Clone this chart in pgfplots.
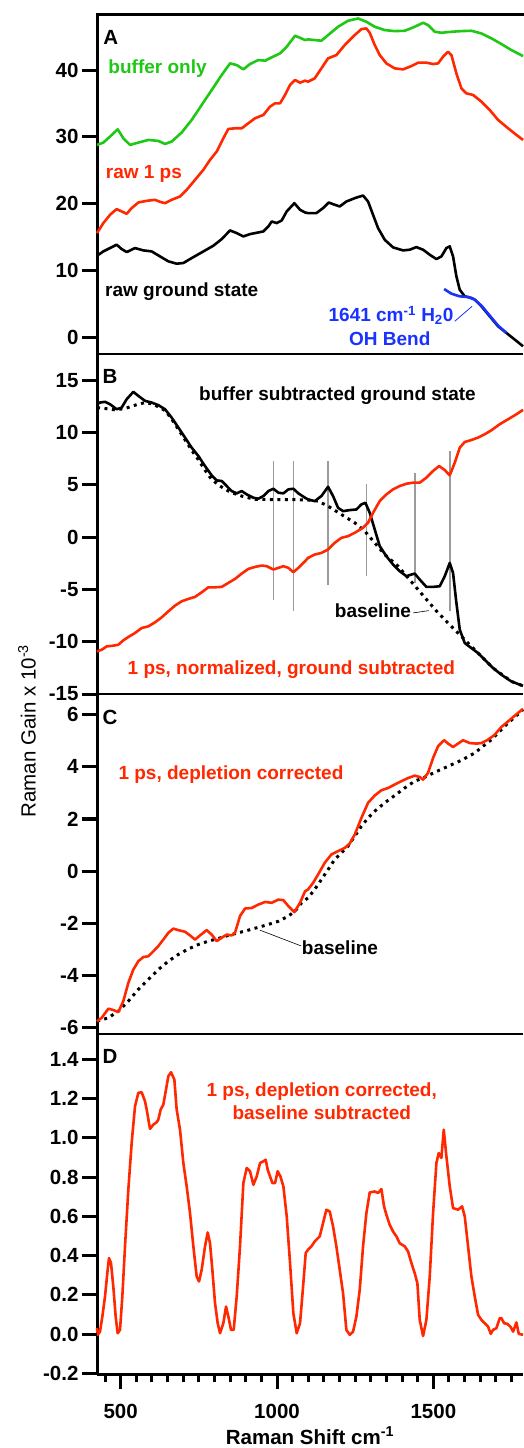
\documentclass[border=0pt]{standalone}
\usepackage{fontspec}
\setmainfont{Liberation Sans}
\usepackage{pgfplots}
\pgfplotsset{compat=1.18}
\usetikzlibrary{calc}

\definecolor{sred}{RGB}{255,40,0}
\definecolor{sgreen}{RGB}{30,200,20}
\definecolor{sblue}{RGB}{25,50,255}
\definecolor{sgray}{RGB}{155,155,155}

\newcommand{\tickfont}{\fontsize{20.5}{20.5}\selectfont\bfseries}
\newcommand{\notefont}{\fontsize{19}{22.5}\selectfont\bfseries}

\pgfplotsset{
  panel/.style={
    scale only axis, width=426pt, height=340pt,
    xmin=424.2, xmax=1786.7,
    axis lines=left,
    axis line style={-},
    x axis line style={line width=1.2pt},
    y axis line style={line width=3pt},
    tick pos=left,
    tick align=outside,
    major tick length=15pt, minor tick length=8pt,
    tick style={black, line width=3pt},
    xtick=\empty,
    tick label style={font=\tickfont},
    /pgf/number format/assume math mode=true,
    /pgf/number format/1000 sep={},
    clip=false,
    every axis plot/.append style={line width=2.6pt, line join=round},
  },
}
\tikzset{
  note/.style={font=\notefont, inner sep=0pt},
  letter/.style={font=\tickfont, inner sep=0pt, anchor=base west},
  base dots/.style={black, line width=3pt, dash pattern=on 3pt off 4.5pt},
}
% outward tick marks set as solid bars: #1 axis name, #2 relative positions along the axis
\newcommand{\leftticks}[2]{\foreach \q in {#2}{\node[anchor=east, inner sep=0pt, outer sep=0pt] at ($(#1.south west)!\q!(#1.north west)$) {\rule{15pt}{3pt}};}}
\newcommand{\bottomticks}[3]{\foreach \q in {#3}{\node[anchor=north, inner sep=0pt, outer sep=0pt] at ($(#1.south west)!\q!(#1.south east)$) {\rule{3pt}{#2}};}}

\begin{document}
\begin{tikzpicture}
\path[use as bounding box] (0,0) rectangle (523pt,-1448pt);

% ---------------- A: raw spectra ----------------
\begin{axis}[panel, name=A, at={(97pt,-14pt)}, anchor=north west,
  ymin=-2.5, ymax=48.4, ytick={0,10,20,30,40}]
\addplot[sgreen] coordinates {
(424.2,28.80) (444.5,29.15) (465.8,30.05) (490.3,31.14) (508.4,29.80) (529.8,28.80)
(556.4,29.15) (588.4,29.55) (620.4,29.40) (641.7,28.95) (663.0,29.30) (695.0,30.65)
(727.0,32.54) (759.0,34.78) (791.0,37.02) (823.0,39.27) (849.7,41.01) (871.0,40.76)
(892.3,40.11) (913.6,40.91) (940.3,41.51) (961.6,41.41) (982.9,41.91) (1009.6,42.50)
(1030.9,43.50) (1057.6,45.14) (1073.6,44.84) (1089.6,44.50) (1099.2,44.60) (1120.5,44.50)
(1141.9,44.40) (1163.2,45.24) (1195.2,46.49) (1227.2,47.39) (1259.2,47.73) (1285.8,47.24)
(1312.5,46.49) (1344.5,45.99) (1376.4,45.84) (1408.4,45.89) (1440.4,46.49) (1467.1,47.09)
(1483.1,46.74) (1504.4,45.74) (1525.7,45.59) (1557.7,45.74) (1589.7,45.84) (1621.7,45.89)
(1653.7,45.49) (1685.7,44.75) (1717.7,43.90) (1749.6,43.00) (1786.7,42.10)};
\addplot[sred] coordinates {
(424.2,15.60) (444.5,17.10) (465.8,18.34) (487.1,19.19) (503.1,18.84) (519.1,18.49)
(535.1,19.34) (556.4,20.18) (583.1,20.43) (609.7,20.58) (625.7,20.28) (641.7,20.08)
(663.0,20.58) (689.7,21.08) (711.0,22.08) (737.7,23.57) (764.3,25.07) (785.7,26.56)
(807.0,27.81) (828.3,29.80) (844.3,31.19) (865.6,31.29) (887.0,31.29) (908.3,32.04)
(929.6,32.79) (956.3,33.29) (977.6,34.53) (993.6,35.03) (1009.6,35.03) (1025.6,36.28)
(1041.6,37.77) (1057.6,38.52) (1073.6,38.12) (1089.6,38.42) (1099.2,38.27) (1120.5,38.77)
(1141.9,40.26) (1163.2,41.76) (1189.8,42.25) (1216.5,43.75) (1248.5,45.24) (1269.8,46.14)
(1285.8,46.24) (1296.5,45.59) (1312.5,43.75) (1328.5,42.25) (1349.8,41.01) (1376.4,40.26)
(1403.1,40.11) (1429.8,40.61) (1451.1,41.11) (1477.7,41.11) (1499.1,40.91) (1515.1,41.01)
(1531.1,42.01) (1547.1,42.75) (1557.7,42.25) (1573.7,39.51) (1589.7,37.27) (1605.7,36.52)
(1627.0,36.28) (1653.7,35.28) (1680.3,34.03) (1707.0,32.54) (1739.0,31.29) (1765.6,30.30)
(1786.7,29.55)};
\addplot[black] coordinates {
(424.2,12.21) (444.5,12.86) (465.8,13.36) (487.1,13.86) (503.1,13.21) (519.1,12.76)
(545.8,13.36) (572.4,13.01) (599.1,12.86) (625.7,12.11) (652.4,11.37) (679.0,11.02)
(700.4,11.12) (727.0,11.86) (759.0,12.71) (796.3,13.71) (823.0,14.70) (849.7,16.00)
(871.0,15.60) (892.3,15.10) (913.6,15.45) (940.3,15.70) (956.3,15.85) (972.3,16.60)
(982.9,17.34) (999.0,17.10) (1014.9,17.49) (1030.9,18.84) (1055.4,20.08) (1073.6,19.09)
(1089.6,18.69) (1099.2,18.59) (1125.9,18.59) (1147.2,19.34) (1165.3,20.18) (1184.5,19.84)
(1200.5,19.59) (1221.8,20.33) (1248.5,20.83) (1275.1,21.23) (1291.1,20.33) (1307.1,18.34)
(1323.1,16.35) (1344.5,14.60) (1371.1,13.46) (1403.1,13.01) (1424.4,13.11) (1445.7,13.51)
(1467.1,13.11) (1488.4,12.36) (1509.7,11.71) (1525.7,12.11) (1541.7,13.36) (1552.4,13.61)
(1563.0,12.11) (1573.7,9.12) (1584.4,7.13) (1600.4,6.13) (1621.7,5.89) (1632.4,5.64)
(1653.7,4.64) (1680.3,3.15) (1707.0,1.65) (1733.6,0.65) (1760.3,-0.34) (1786.7,-1.34)};
% water bend contribution
\addplot[sblue] coordinates {
(1534.3,7.23) (1557.7,6.53) (1584.4,6.13) (1611.0,6.04) (1632.4,5.64) (1653.7,4.74)
(1680.3,3.25) (1707.0,1.75) (1733.6,0.65)};
\draw[sblue, line width=0.8pt] (axis cs:1568.4,2.40) -- (axis cs:1623.8,4.64);
\node[letter] at (axis cs:444.3,43.86) {A};
\node[note, anchor=base west, text=sgreen] at (axis cs:460.3,39.52) {buffer only};
\node[note, anchor=base west, text=sred] at (axis cs:452.0,23.83) {raw 1 ps};
\node[note, anchor=base west] at (axis cs:449.8,6.04) {raw ground state};
\node[note, anchor=base, text=sblue] at (axis cs:1364.7,2.39) {1641 cm\textsuperscript{-1} H\textsubscript{2}0};
\node[note, anchor=base, text=sblue] at (axis cs:1360.5,-1.24) {OH Bend};
\end{axis}
\draw[line width=3pt, line cap=rect] (A.north west) -- (A.north east);
% ticks at 0,10,20,30,40
\leftticks{A}{0.0491,0.2456,0.4420,0.6385,0.8350}

% ---------------- B: buffer subtracted ----------------
\begin{axis}[panel, name=B, at={(97pt,-354pt)}, anchor=north west,
  ymin=-15, ymax=17.5, ytick={-15,-10,-5,0,5,10,15}]
\addplot[sgray, line width=1.3pt] coordinates {(988.3,7.27) (988.3,-5.98)};
\addplot[sgray, line width=1.3pt] coordinates {(1053.3,7.27) (1053.3,-7.10)};
\addplot[sgray, line width=1.3pt] coordinates {(1163.2,7.27) (1163.2,-4.54)};
\addplot[sgray, line width=1.3pt] coordinates {(1286.9,5.04) (1286.9,-3.74)};
\addplot[sgray, line width=1.3pt] coordinates {(1441.5,6.16) (1441.5,-4.38)};
\addplot[sgray, line width=1.3pt] coordinates {(1553.4,8.23) (1553.4,-7.10)};
\addplot[base dots] coordinates {
(424.2,12.38) (449.8,12.29) (481.8,12.16) (513.8,12.29) (545.8,12.61) (577.7,12.86)
(604.4,12.70) (641.7,12.10) (663.0,11.30) (684.4,10.30) (705.7,9.30) (727.0,8.30)
(748.4,7.40) (769.7,6.40) (791.0,5.50) (817.7,4.88) (850.0,4.30) (887.0,3.92)
(929.6,3.60) (960.0,3.60) (1000.0,3.58) (1040.0,3.58) (1080.0,3.56) (1099.2,3.54)
(1131.2,3.44) (1163.2,2.96) (1205.8,2.16) (1248.5,1.37) (1280.5,0.57) (1312.5,-0.55)
(1344.5,-1.67) (1387.1,-2.78) (1419.1,-3.90) (1451.1,-5.02) (1483.1,-6.14) (1515.1,-7.25)
(1547.1,-8.21) (1579.0,-9.17) (1595.0,-9.65) (1611.0,-10.13) (1643.0,-11.09) (1691.0,-12.52)
(1749.6,-13.80) (1786.7,-14.22)};
\addplot[black] coordinates {
(424.2,12.70) (433.8,12.86) (449.8,12.93) (465.8,12.70) (487.1,12.22) (503.1,12.38)
(519.1,13.18) (540.4,13.88) (556.4,13.50) (577.7,13.02) (599.1,12.86) (620.4,12.61)
(641.7,12.22) (663.0,11.42) (684.4,10.47) (705.7,9.51) (727.0,8.55) (748.4,7.75)
(769.7,6.79) (791.0,5.90) (807.0,5.42) (823.0,5.36) (839.0,4.88) (855.0,4.40)
(871.0,4.18) (887.0,4.40) (903.0,4.08) (924.3,3.76) (940.3,3.67) (956.3,3.92)
(972.3,4.40) (988.3,4.62) (1004.3,4.24) (1020.3,4.18) (1036.3,4.56) (1052.2,4.62)
(1068.2,4.18) (1089.6,3.76) (1099.2,3.60) (1120.5,3.44) (1141.9,3.92) (1163.2,4.81)
(1179.2,3.92) (1195.2,2.80) (1211.2,2.48) (1232.5,2.58) (1253.8,2.64) (1269.8,3.12)
(1282.6,3.28) (1296.5,2.32) (1312.5,0.73) (1328.5,-0.87) (1349.8,-1.83) (1371.1,-2.62)
(1392.4,-3.26) (1413.8,-3.74) (1429.8,-3.58) (1440.4,-3.49) (1456.4,-4.06) (1477.7,-4.76)
(1499.1,-4.76) (1520.4,-4.70) (1536.4,-3.74) (1552.4,-2.47) (1563.0,-3.42) (1573.7,-6.30)
(1584.4,-8.85) (1600.4,-10.13) (1621.7,-10.61) (1643.0,-11.09) (1664.3,-11.72) (1691.0,-12.52)
(1717.7,-13.16) (1749.6,-13.80) (1786.7,-14.22)};
\addplot[sred] coordinates {
(424.2,-10.93) (439.1,-10.77) (455.1,-10.45) (476.4,-10.38) (492.4,-10.29) (508.4,-9.87)
(524.4,-9.55) (545.8,-9.17) (567.1,-8.69) (588.4,-8.53) (609.7,-8.15) (631.1,-7.67)
(652.4,-7.10) (673.7,-6.55) (695.0,-6.14) (716.4,-5.91) (737.7,-5.72) (759.0,-5.28)
(780.3,-4.80) (801.7,-4.80) (823.0,-4.76) (844.3,-4.38) (865.6,-4.00) (887.0,-3.49)
(908.3,-3.04) (929.6,-2.85) (951.0,-2.72) (967.0,-2.78) (988.3,-3.10) (1004.3,-2.94)
(1020.3,-2.78) (1036.3,-2.94) (1052.2,-3.36) (1068.2,-2.94) (1089.6,-2.31) (1099.2,-1.99)
(1120.5,-1.67) (1141.9,-1.51) (1163.2,-1.19) (1184.5,-0.55) (1205.8,-0.07) (1227.2,0.09)
(1248.5,0.41) (1275.1,0.89) (1291.1,1.37) (1307.1,2.32) (1328.5,3.44) (1349.8,4.08)
(1371.1,4.56) (1392.4,4.88) (1413.8,5.10) (1435.1,5.20) (1456.4,5.20) (1477.7,5.68)
(1499.1,6.32) (1518.3,6.79) (1536.4,6.41) (1552.4,5.90) (1568.4,7.11) (1584.4,8.55)
(1600.4,9.09) (1621.7,9.28) (1643.0,9.51) (1664.3,9.83) (1685.7,10.21) (1712.3,10.79)
(1739.0,11.26) (1765.6,11.74) (1786.7,12.16)};
\draw[black, line width=0.6pt] (axis cs:1435.1,-7.25) -- (axis cs:1485.2,-7.03);
\node[letter] at (axis cs:441.3,14.68) {B};
\node[note, anchor=base] at (axis cs:1193.5,13.02) {buffer subtracted ground state};
\node[note, anchor=base, text=sred] at (axis cs:1045.7,-13.16) {1 ps, normalized, ground subtracted};
\node[note, anchor=base west] at (axis cs:1184.5,-7.73) {baseline};
\end{axis}
% ticks at -15,-10,...,15
\leftticks{B}{0,0.1538,0.3077,0.4615,0.6154,0.7692,0.9231}

% ---------------- C: depletion corrected ----------------
\begin{axis}[panel, name=C, at={(97pt,-694pt)}, anchor=north west,
  ymin=-6.24, ymax=6.79, ytick={-6,-4,-2,0,2,4,6}]
\addplot[base dots] coordinates {
(424.2,-5.75) (460.5,-5.62) (492.4,-5.36) (524.4,-4.98) (556.4,-4.53) (588.4,-4.15)
(620.4,-3.77) (652.4,-3.45) (684.4,-3.19) (716.4,-2.98) (748.4,-2.81) (780.3,-2.68)
(812.3,-2.58) (844.3,-2.46) (876.3,-2.36) (908.3,-2.26) (940.3,-2.15) (972.3,-2.04)
(1004.3,-1.92) (1036.3,-1.72) (1057.6,-1.53) (1078.9,-1.21) (1099.2,-1.02) (1120.5,-0.70)
(1141.9,-0.32) (1163.2,0.06) (1184.5,0.45) (1205.8,0.70) (1227.2,0.96) (1248.5,1.34)
(1269.8,1.72) (1291.1,2.04) (1312.5,2.30) (1344.5,2.62) (1376.4,2.90) (1408.4,3.19)
(1440.4,3.45) (1467.1,3.57) (1504.4,3.79) (1547.1,4.02) (1589.7,4.25) (1632.4,4.53)
(1659.0,4.79) (1685.7,5.04) (1712.3,5.36) (1739.0,5.68) (1765.6,5.96) (1786.7,6.19)};
\addplot[sred] coordinates {
(424.2,-5.75) (439.1,-5.62) (460.5,-5.27) (476.4,-5.32) (492.4,-5.40) (508.4,-4.98)
(524.4,-4.28) (540.4,-3.77) (556.4,-3.45) (572.4,-3.29) (588.4,-3.26) (604.4,-3.07)
(620.4,-2.87) (636.4,-2.62) (652.4,-2.36) (668.4,-2.20) (684.4,-2.26) (705.7,-2.32)
(721.7,-2.46) (737.7,-2.62) (753.7,-2.46) (775.0,-2.26) (791.0,-2.43) (807.0,-2.68)
(823.0,-2.55) (839.0,-2.43) (855.0,-2.46) (865.6,-2.36) (881.6,-1.72) (897.6,-1.43)
(918.9,-1.41) (940.3,-1.28) (961.6,-1.18) (982.9,-1.21) (1004.3,-1.09) (1020.3,-1.11)
(1036.3,-1.34) (1055.4,-1.57) (1073.6,-1.21) (1089.6,-0.77) (1099.2,-0.70) (1115.2,-0.45)
(1131.2,-0.13) (1152.5,0.32) (1173.8,0.64) (1195.2,0.77) (1216.5,0.89) (1232.5,1.06)
(1248.5,1.40) (1269.8,2.04) (1291.1,2.62) (1312.5,2.90) (1333.8,3.10) (1355.1,3.19)
(1376.4,3.32) (1397.8,3.45) (1419.1,3.57) (1440.4,3.66) (1456.4,3.61) (1467.1,3.51)
(1483.1,3.77) (1499.1,4.34) (1515.1,4.79) (1534.3,5.02) (1547.1,4.89) (1563.0,4.76)
(1579.0,4.89) (1595.0,5.02) (1616.4,4.91) (1637.7,4.89) (1653.7,4.91) (1675.0,5.04)
(1696.3,5.23) (1717.7,5.53) (1739.0,5.74) (1760.3,5.96) (1786.7,6.22)};
\draw[black, line width=0.6pt] (axis cs:945.6,-2.26) -- (axis cs:1076,-2.86);
\node[letter] at (axis cs:441.3,5.64) {C};
\node[note, anchor=base west, text=sred] at (axis cs:492.4,3.51) {1 ps, depletion corrected};
\node[note, anchor=base west] at (axis cs:1079,-3.19) {baseline};
\end{axis}
% ticks at -6,-4,...,6
\leftticks{C}{0.0184,0.1719,0.3254,0.4789,0.6324,0.7859,0.9394}

% ---------------- D: baseline subtracted ----------------
\begin{axis}[panel, name=D, at={(97pt,-1034pt)}, anchor=north west,
  ymin=-0.204, ymax=1.53,
  ytick={-0.2,0,0.2,0.4,0.6,0.8,1.0,1.2,1.4},
  yticklabel style={/pgf/number format/.cd, fixed, fixed zerofill, precision=1},
  x axis line style={line width=3pt},
  xtick={500,1000,1500},
  xticklabel style={yshift=-12pt},
  minor xtick={450,550,600,650,700,750,800,850,900,950,1050,1100,1150,1200,1250,1300,1350,1400,1450,1550,1600,1650,1700,1750}]
\addplot[sred] coordinates {
(424.2,0.030) (426.3,-0.004) (433.8,0.012) (441.3,0.089) (449.8,0.191) (458.3,0.328)
(462.6,0.387) (469.0,0.362) (476.4,0.242) (483.9,0.089) (490.3,0.004) (497.8,0.021)
(505.2,0.191) (513.8,0.447) (524.4,0.736) (535.1,0.975) (545.8,1.162) (556.4,1.230)
(567.1,1.233) (577.7,1.187) (583.1,1.145) (593.7,1.046) (604.4,1.068) (615.1,1.080)
(620.4,1.094) (627.9,1.145) (636.4,1.170) (643.9,1.238) (652.4,1.315) (660.9,1.335)
(671.6,1.298) (679.0,1.145) (689.7,1.042) (700.4,0.872) (711.0,0.753) (721.7,0.617)
(732.4,0.447) (743.0,0.293) (750.5,0.268) (759.0,0.328) (769.7,0.447) (778.2,0.518)
(785.7,0.463) (793.1,0.328) (801.7,0.157) (810.2,0.055) (817.7,0.004) (828.3,0.055)
(836.9,0.140) (844.3,0.089) (852.9,0.021) (861.4,0.021) (871.0,0.191) (881.6,0.447)
(892.3,0.770) (903.0,0.847) (913.6,0.830) (924.3,0.761) (935.0,0.804) (945.6,0.872)
(956.3,0.881) (963.7,0.889) (970.1,0.838) (977.6,0.804) (985.1,0.770) (993.6,0.770)
(1002.1,0.830) (1010.7,0.804) (1020.3,0.753) (1031.0,0.600) (1041.6,0.362) (1052.2,0.106)
(1062.9,0.004) (1073.6,0.055) (1084.2,0.259) (1091.7,0.413) (1099.2,0.430) (1109.9,0.447)
(1120.5,0.472) (1136.5,0.498) (1147.2,0.566) (1157.8,0.634) (1168.5,0.625) (1179.2,0.549)
(1189.8,0.447) (1200.5,0.328) (1211.2,0.208) (1221.8,0.021) (1232.5,-0.004) (1243.2,0.012)
(1253.8,0.089) (1264.5,0.225) (1275.1,0.447) (1285.8,0.617) (1296.5,0.722) (1312.5,0.727)
(1323.1,0.719) (1333.8,0.739) (1342.3,0.651) (1349.8,0.608) (1360.4,0.557) (1371.1,0.523)
(1381.8,0.498) (1392.4,0.463) (1408.4,0.447) (1419.1,0.421) (1429.8,0.362) (1440.4,0.310)
(1448.9,0.259) (1456.4,0.072) (1467.1,-0.010) (1477.7,0.072) (1488.4,0.293) (1499.1,0.617)
(1509.7,0.872) (1517.2,0.923) (1525.7,0.898) (1533.2,1.042) (1541.7,0.906) (1552.4,0.753)
(1563.0,0.642) (1579.0,0.634) (1591.8,0.651) (1600.4,0.600) (1611.0,0.447) (1621.7,0.293)
(1632.4,0.191) (1643.0,0.098) (1653.7,0.072) (1664.3,0.055) (1675.0,0.038) (1683.5,0.001)
(1691.0,0.021) (1701.7,0.030) (1712.3,0.081) (1717.7,0.081) (1726.2,0.055) (1736.8,0.052)
(1747.5,0.035) (1755.0,0.012) (1765.6,0.059) (1773.1,0.001) (1786.7,-0.004)};
\node[letter] at (axis cs:441.3,1.378) {D};
\node[note, anchor=base, text=sred] at (axis cs:1143,1.209) {1 ps, depletion corrected,};
\node[note, anchor=base, text=sred] at (axis cs:1143,1.094) {baseline subtracted};
\end{axis}
% ticks at -0.2,0,...,1.4
\leftticks{D}{0.0023,0.1176,0.2330,0.3483,0.4637,0.5790,0.6944,0.8097,0.9251}
% major ticks at 500, 1000, 1500
\bottomticks{D}{15pt}{0.05563,0.42260,0.78957}
% minor ticks every 50
\bottomticks{D}{8pt}{0.01894,0.09233,0.12903,0.16572,0.20242,0.23912,0.27582,0.31251,0.34921,0.38591,0.45930,0.49600,0.53270,0.56939,0.60609,0.64279,0.67948,0.71618,0.75288,0.82627,0.86297,0.89967,0.93636,0.97306}

% axis titles
\node[font=\fontsize{20.5}{20.5}\selectfont, rotate=90, inner sep=0pt] at (27pt,-731pt) {Raman Gain x 10\textsuperscript{-3}};
\node[font=\tickfont, anchor=base, inner sep=0pt] at (310pt,-1444pt) {Raman Shift cm\textsuperscript{-1}};
\end{tikzpicture}
\end{document}
